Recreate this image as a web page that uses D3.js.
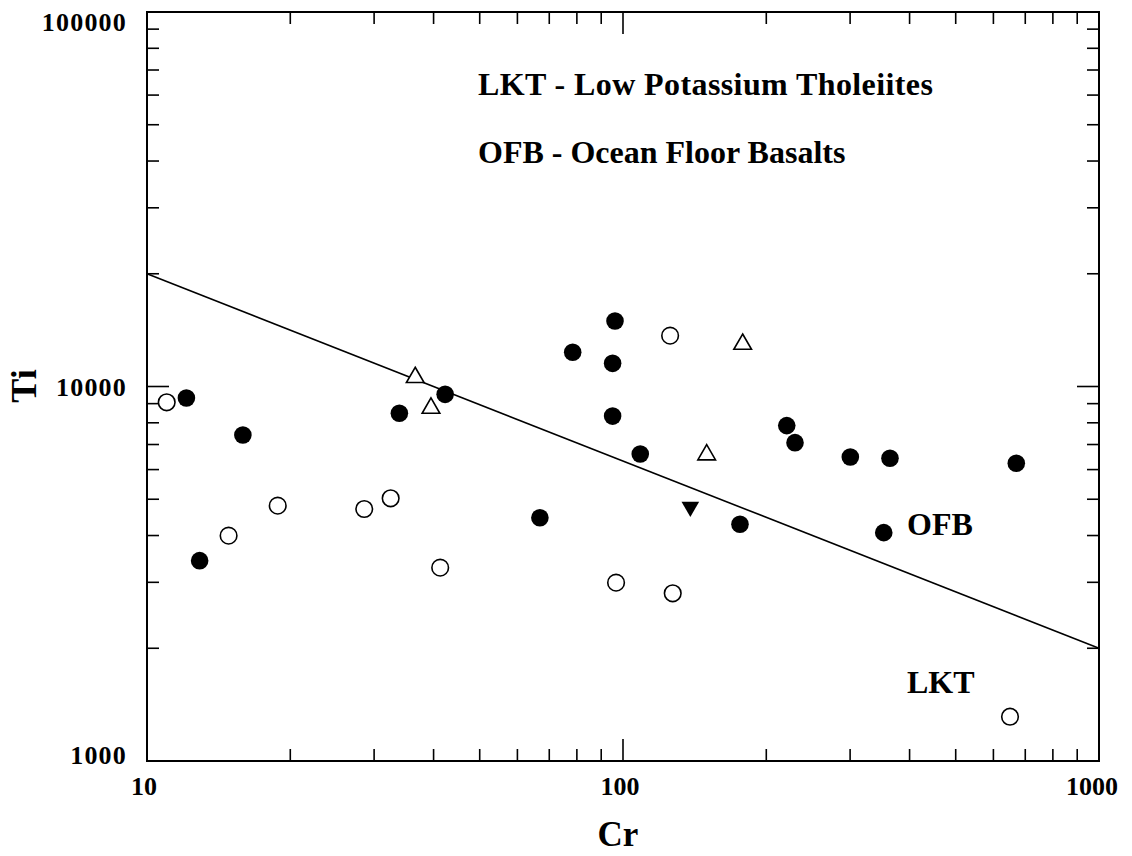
<!DOCTYPE html>
<html>
<head>
<meta charset="utf-8">
<script src="https://cdn.jsdelivr.net/npm/d3@7"></script>
<style>
  html, body { margin: 0; padding: 0; background: #fff; }
  svg text { font-family: "Liberation Serif", "Times New Roman", serif; font-weight: bold; fill: #000; }
</style>
</head>
<body>
<svg id="chart" width="1132" height="856"></svg>
<script>
// Ti vs Cr discrimination diagram (log-log)

// Filled circles
const filledCr = [12.1, 15.9, 12.9, 33.9, 42.3, 66.9, 78.4, 96.2, 95.1, 95.1, 108.7, 176.1, 220.8, 229.8, 300.3, 363.8, 353.0, 670.3];
const filledTi = [9314, 7423, 3427, 8481, 9529, 4464, 12340, 14960, 11530, 8337, 6602, 4286, 7862, 7080, 6480, 6431, 4072, 6237];

// Open circles
const openCr = [11.0, 14.84, 18.82, 28.6, 32.5, 41.3, 96.7, 125.6, 127.2, 650.2];
const openTi = [9074, 3997, 4807, 4709, 5029, 3283, 2994, 13670, 2804, 1313];

// Open triangles
const triCr = [36.6, 39.5, 149.9, 178.4];
const triTi = [10670, 8834, 6631, 13090];

// Filled inverted triangle
const invCr = [138.5];
const invTi = [4729];

// LKT / OFB boundary line
const boundaryCr = [10, 1000];
const boundaryTi = [20000, 2000];

// Axis domains and labelled ticks
const crDomain = [10, 1000];
const tiDomain = [1000, 100000];
const crTickLabels = [10, 100, 1000];
const tiTickLabels = [1000, 10000, 100000];

const svg = d3.select("#chart");
const plotLeft = 147, plotRight = 1099, plotTop = 12, plotBottom = 761;

const x = d3.scaleLog().domain(crDomain).range([plotLeft, plotRight]);
const y = d3.scaleLog().domain(tiDomain).range([plotBottom, plotTop]);

// Minor + major tick values for each decade
function logTicks(domain) {
  const out = [];
  const k0 = Math.round(Math.log10(domain[0]));
  const k1 = Math.round(Math.log10(domain[1]));
  for (let k = k0; k < k1; k++) {
    for (let m = 1; m <= 9; m++) out.push({ v: m * Math.pow(10, k), major: m === 1 });
  }
  out.push({ v: Math.pow(10, k1), major: true });
  return out;
}
const xt = logTicks(crDomain);
const yt = logTicks(tiDomain);
const majorLen = 22, minorLen = 12;

const ticks = svg.append("g").attr("stroke", "#000").attr("stroke-width", 1.6);
// bottom & top
xt.forEach(t => {
  if (t.v === crDomain[0] || t.v === crDomain[1]) return;
  const px = x(t.v), len = t.major ? majorLen : minorLen;
  ticks.append("line").attr("x1", px).attr("x2", px).attr("y1", plotBottom).attr("y2", plotBottom - len);
  ticks.append("line").attr("x1", px).attr("x2", px).attr("y1", plotTop).attr("y2", plotTop + len);
});
// left & right
yt.forEach(t => {
  if (t.v === tiDomain[0] || t.v === tiDomain[1]) return;
  const py = y(t.v), len = t.major ? majorLen : minorLen;
  ticks.append("line").attr("x1", plotLeft).attr("x2", plotLeft + len).attr("y1", py).attr("y2", py);
  ticks.append("line").attr("x1", plotRight).attr("x2", plotRight - len).attr("y1", py).attr("y2", py);
});

// Frame
svg.append("rect")
  .attr("x", plotLeft).attr("y", plotTop)
  .attr("width", plotRight - plotLeft).attr("height", plotBottom - plotTop)
  .attr("fill", "none").attr("stroke", "#000").attr("stroke-width", 2);

// Tick labels
svg.append("g").selectAll("text").data(tiTickLabels).join("text")
  .attr("x", 127)
  .attr("y", d => Math.min(Math.max(y(d), 22), 755))
  .attr("dy", "0.35em")
  .attr("text-anchor", "end")
  .attr("font-size", 26)
  .attr("letter-spacing", 1.2)
  .text(d => d);

svg.append("g").selectAll("text").data(crTickLabels).join("text")
  .attr("x", d => Math.min(x(d) - 3, 1092))
  .attr("y", 795)
  .attr("text-anchor", "middle")
  .attr("font-size", 26)
  .text(d => d);

// Axis titles
svg.append("text")
  .attr("x", 618).attr("y", 846)
  .attr("text-anchor", "middle")
  .attr("font-size", 35)
  .text("Cr");
svg.append("text")
  .attr("transform", "translate(36,386) rotate(-90)")
  .attr("text-anchor", "middle")
  .attr("font-size", 36)
  .text("Ti");

// Boundary line
const line = d3.line().x(d => x(d[0])).y(d => y(d[1]));
svg.append("path")
  .datum(boundaryCr.map((c, i) => [c, boundaryTi[i]]))
  .attr("d", line)
  .attr("fill", "none").attr("stroke", "#000").attr("stroke-width", 1.6);

// Annotations
const notes = svg.append("g").attr("font-size", 32);
notes.append("text").attr("x", 478).attr("y", 95).attr("letter-spacing", 0.4).text("LKT - Low Potassium Tholeiites");
notes.append("text").attr("x", 478).attr("y", 163).text("OFB - Ocean Floor Basalts");
notes.append("text").attr("x", 907).attr("y", 535).text("OFB");
notes.append("text").attr("x", 907).attr("y", 693).text("LKT");

// Markers
const pts = (cr, ti) => cr.map((c, i) => [c, ti[i]]);

svg.append("g").selectAll("circle").data(pts(openCr, openTi)).join("circle")
  .attr("cx", d => x(d[0])).attr("cy", d => y(d[1])).attr("r", 8.3)
  .attr("fill", "#fff").attr("stroke", "#000").attr("stroke-width", 1.6);

svg.append("g").selectAll("circle").data(pts(filledCr, filledTi)).join("circle")
  .attr("cx", d => x(d[0])).attr("cy", d => y(d[1])).attr("r", 8.8)
  .attr("fill", "#000");

const tri = d3.symbol().type(d3.symbolTriangle).size(135);
svg.append("g").selectAll("path").data(pts(triCr, triTi)).join("path")
  .attr("d", tri)
  .attr("transform", d => `translate(${x(d[0])},${y(d[1]) + 1.5})`)
  .attr("fill", "#fff").attr("stroke", "#000").attr("stroke-width", 1.6);

svg.append("g").selectAll("path").data(pts(invCr, invTi)).join("path")
  .attr("d", tri)
  .attr("transform", d => `translate(${x(d[0])},${y(d[1]) - 1.5}) rotate(180)`)
  .attr("fill", "#000");
</script>
</body>
</html>
